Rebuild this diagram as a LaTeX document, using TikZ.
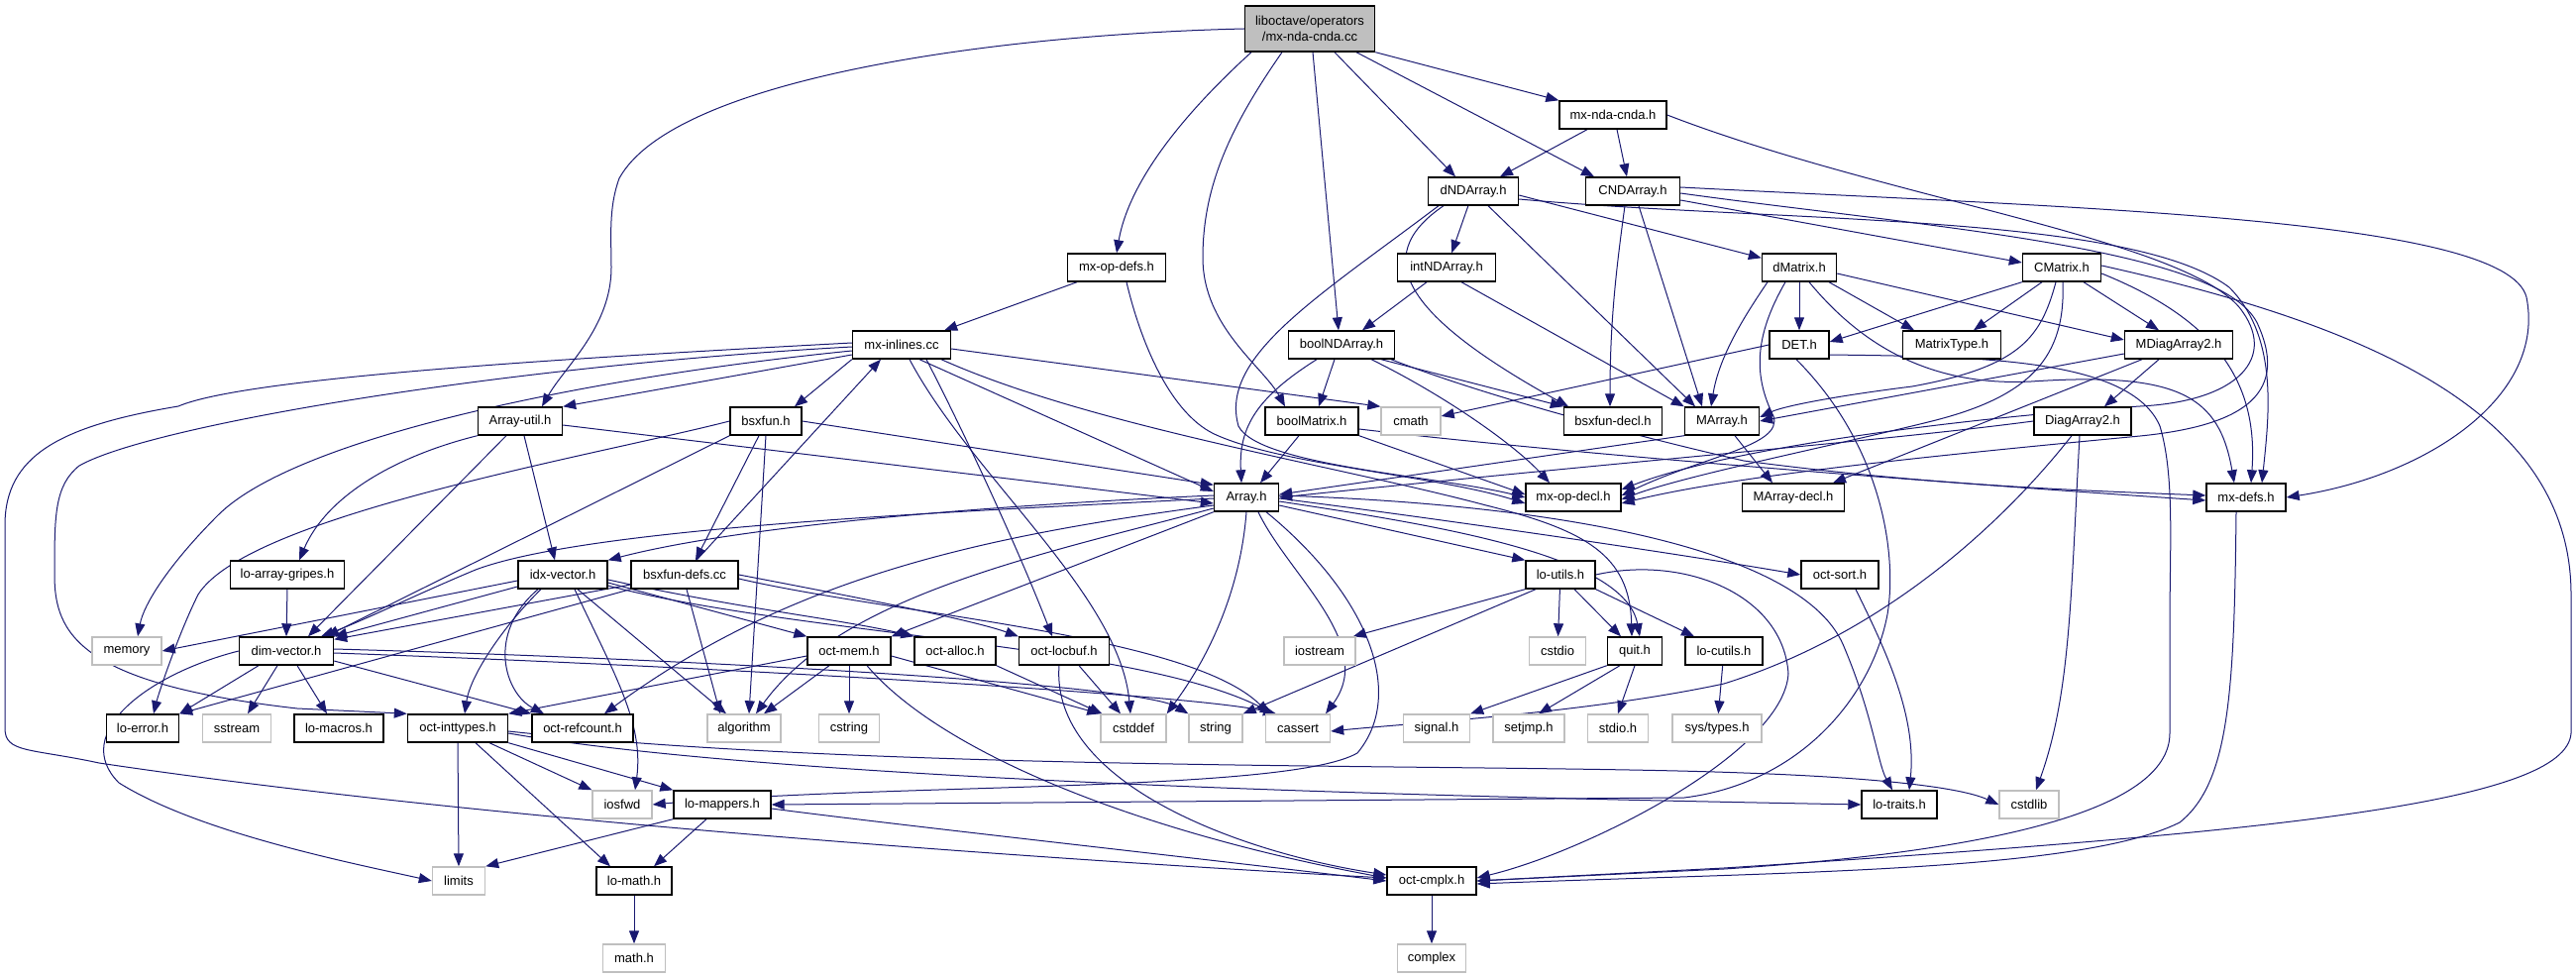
\documentclass[tikz,border=0pt]{standalone}
\usepackage{fontspec}
\setmainfont{Liberation Sans}
\usetikzlibrary{arrows.meta}
\definecolor{eblue}{HTML}{191970}
\definecolor{lgray}{HTML}{BFBFBF}
\pgfdeclarelayer{background}
\pgfsetlayers{background,main}
\tikzset{
 nd/.style={draw=black, line width=1.4pt, fill=white, minimum height=28pt, inner sep=0pt, text=black, font=\fontsize{13}{16}\selectfont},
 gx/.style={nd, draw=lgray},
 rootbox/.style={nd, fill=lgray, minimum height=46pt, align=center},
 edg/.style={draw=eblue, line width=1pt, -{Triangle[length=13pt,width=10pt]}}
}
\begin{document}
\begin{tikzpicture}[x=1pt,y=-1pt]
\useasboundingbox (0,0) rectangle (2600,987);
% row 0
\node[rootbox, minimum width=131pt] (root) at (1322,29) {liboctave/operators\\/mx-nda-cnda.cc};
% row 1
\node[nd, minimum width=108pt] (mxndacndah) at (1628,116) {mx-nda-cnda.h};
% row 2
\node[nd, minimum width=91pt] (dNDArray) at (1487,193) {dNDArray.h};
\node[nd, minimum width=95pt] (CNDArray) at (1648,193) {CNDArray.h};
% row 3
\node[nd, minimum width=99pt] (mxopdefs) at (1127,270) {mx-op-defs.h};
\node[nd, minimum width=99pt] (intNDArray) at (1460,270) {intNDArray.h};
\node[nd, minimum width=75pt] (dMatrix) at (1816,270) {dMatrix.h};
\node[nd, minimum width=79pt] (CMatrix) at (2081,270) {CMatrix.h};
% row 4
\node[nd, minimum width=99pt] (mxinlines) at (910,348) {mx-inlines.cc};
\node[nd, minimum width=107pt] (boolNDArray) at (1354,348) {boolNDArray.h};
\node[nd, minimum width=60pt] (DET) at (1816,348) {DET.h};
\node[nd, minimum width=99pt] (MatrixType) at (1970,348) {MatrixType.h};
\node[nd, minimum width=109pt] (MDiagArray2) at (2199,348) {MDiagArray2.h};
% row 5
\node[nd, minimum width=85pt] (Arrayutil) at (525,425) {Array-util.h};
\node[nd, minimum width=72pt] (bsxfun) at (773,425) {bsxfun.h};
\node[nd, minimum width=94pt] (boolMatrix) at (1324,425) {boolMatrix.h};
\node[gx, minimum width=60pt] (cmath) at (1424,425) {cmath};
\node[nd, minimum width=99pt] (bsxfundecl) at (1628,425) {bsxfun-decl.h};
\node[nd, minimum width=75pt] (MArray) at (1738,425) {MArray.h};
\node[nd, minimum width=98pt] (DiagArray2) at (2102,425) {DiagArray2.h};
% row 6
\node[nd, minimum width=65pt] (Array) at (1258,502) {Array.h};
\node[nd, minimum width=96pt] (mxopdecl) at (1588,502) {mx-op-decl.h};
\node[nd, minimum width=103pt] (MArraydecl) at (1810,502) {MArray-decl.h};
\node[nd, minimum width=80pt] (mxdefs) at (2267,502) {mx-defs.h};
% row 7
\node[nd, minimum width=115pt] (loarraygripes) at (290,580) {lo-array-gripes.h};
\node[nd, minimum width=90pt] (idxvector) at (568,580) {idx-vector.h};
\node[nd, minimum width=108pt] (bsxfundefs) at (691,580) {bsxfun-defs.cc};
\node[nd, minimum width=70pt] (loutils) at (1575,580) {lo-utils.h};
\node[nd, minimum width=78pt] (octsort) at (1857,580) {oct-sort.h};
% row 8
\node[gx, minimum width=70pt] (memory) at (128,657) {memory};
\node[nd, minimum width=95pt] (dimvector) at (289,657) {dim-vector.h};
\node[nd, minimum width=84pt] (octmem) at (857,657) {oct-mem.h};
\node[nd, minimum width=82pt] (octalloc) at (964,657) {oct-alloc.h};
\node[nd, minimum width=91pt] (octlocbuf) at (1074,657) {oct-locbuf.h};
\node[gx, minimum width=72pt] (iostream) at (1332,657) {iostream};
\node[gx, minimum width=57pt] (cstdio) at (1572,657) {cstdio};
\node[nd, minimum width=55pt] (quit) at (1650,657) {quit.h};
\node[nd, minimum width=78pt] (locutils) at (1740,657) {lo-cutils.h};
% row 9
\node[nd, minimum width=73pt] (loerror) at (144,735) {lo-error.h};
\node[gx, minimum width=69pt] (sstream) at (239,735) {sstream};
\node[nd, minimum width=90pt] (lomacros) at (342,735) {lo-macros.h};
\node[nd, minimum width=101pt] (octinttypes) at (462,735) {oct-inttypes.h};
\node[nd, minimum width=102pt] (octrefcount) at (588,735) {oct-refcount.h};
\node[gx, minimum width=74pt] (algorithm) at (751,735) {algorithm};
\node[gx, minimum width=61pt] (cstring) at (857,735) {cstring};
\node[gx, minimum width=66pt] (cstddef) at (1144,735) {cstddef};
\node[gx, minimum width=54pt] (string) at (1227,735) {string};
\node[gx, minimum width=65pt] (cassert) at (1310,735) {cassert};
\node[gx, minimum width=67pt] (signalh) at (1450,735) {signal.h};
\node[gx, minimum width=72pt] (setjmp) at (1543,735) {setjmp.h};
\node[gx, minimum width=61pt] (stdioh) at (1633,735) {stdio.h};
\node[gx, minimum width=90pt] (systypes) at (1733,735) {sys/types.h};
% row 10
\node[gx, minimum width=60pt] (iosfwd) at (628,812) {iosfwd};
\node[nd, minimum width=98pt] (lomappers) at (729,812) {lo-mappers.h};
\node[nd, minimum width=76pt] (lotraits) at (1917,812) {lo-traits.h};
\node[gx, minimum width=60pt] (cstdlib) at (2048,812) {cstdlib};
% row 11
\node[gx, minimum width=53pt] (limits) at (463,889) {limits};
\node[nd, minimum width=76pt] (lomath) at (640,889) {lo-math.h};
\node[nd, minimum width=90pt] (octcmplx) at (1445,889) {oct-cmplx.h};
% row 12
\node[gx, minimum width=63pt] (mathh) at (640,967) {math.h};
\node[gx, minimum width=69pt] (complex) at (1445,967) {complex};

\begin{pgfonlayer}{background}
% root
\draw[edg] (root.west) .. controls (1000,35) and (680,80) .. (625,180) .. controls (614,210) and (617,240) .. (617,270) .. controls (617,330) and (570,370) .. ([xshift=22pt]Arrayutil.north);
\draw[edg] ([xshift=-59pt]root.south) .. controls (1200,110) and (1140,180) .. (mxopdefs.north);
\draw[edg] ([xshift=-28pt]root.south) .. controls (1240,130) and (1214,190) .. (1214,260) .. controls (1214,330) and (1275,370) .. ([xshift=-27pt]boolMatrix.north);
\draw[edg] ([xshift=3pt]root.south) -- ([xshift=-3pt]boolNDArray.north);
\draw[edg] ([xshift=25pt]root.south) -- ([xshift=-18pt]dNDArray.north);
\draw[edg] ([xshift=47pt]root.south) -- ([xshift=-39pt]CNDArray.north);
\draw[edg] (root.south east) -- (mxndacndah.north west);
% mx-nda-cnda.h
\draw[edg] ([xshift=-26pt]mxndacndah.south) -- ([xshift=27pt]dNDArray.north);
\draw[edg] ([xshift=4pt]mxndacndah.south) -- ([xshift=-6pt]CNDArray.north);
\draw[edg] (mxndacndah.east) .. controls (1900,200) and (2200,240) .. (2260,310) .. controls (2300,360) and (2260,405) .. (2160,410) .. controls (2000,420) and (1750,450) .. ([yshift=8pt]mxopdecl.east);
% dNDArray.h
\draw[edg] (dNDArray) -- (intNDArray);
\draw[edg] ([xshift=15pt]dNDArray.south) -- ([xshift=-27pt]MArray.north);
\draw[edg] ([xshift=-30pt]dNDArray.south) .. controls (1380,260) and (1420,320) .. ([xshift=-45pt]bsxfundecl.north);
\draw[edg] ([xshift=-35pt]dNDArray.south) .. controls (1330,300) and (1230,360) .. (1250,430) .. controls (1270,470) and (1450,480) .. (mxopdecl.west);
\draw[edg] ([yshift=-4pt]dNDArray.east) -- ([yshift=-5pt]dMatrix.north west);
\draw[edg] ([yshift=-8pt]dNDArray.east) .. controls (1800,225) and (2150,215) .. (2250,290) .. controls (2300,340) and (2290,420) .. ([xshift=16pt]mxdefs.north);
% CNDArray.h
\draw[edg] ([xshift=-8pt]CNDArray.south) .. controls (1630,280) and (1625,330) .. ([xshift=-3pt]bsxfundecl.north);
\draw[edg] ([xshift=6pt]CNDArray.south) -- ([xshift=-20pt]MArray.north);
\draw[edg] ([yshift=-9pt]CNDArray.east) -- ([yshift=5pt]CMatrix.west);
\draw[edg] ([yshift=-2pt]CNDArray.east) .. controls (1950,230) and (2250,250) .. (2280,330) .. controls (2310,400) and (2260,430) .. (2160,440) .. controls (1950,460) and (1750,480) .. ([yshift=-6pt]mxopdecl.east);
\draw[edg] ([yshift=4pt]CNDArray.east) .. controls (2100,210) and (2530,220) .. (2550,300) .. controls (2570,400) and (2450,480) .. (mxdefs.east);
% dMatrix.h
\draw[edg] ([xshift=-32pt]dMatrix.south) .. controls (1760,320) and (1735,360) .. ([xshift=-11pt]MArray.north);
\draw[edg] ([xshift=-14pt]dMatrix.south) .. controls (1770,340) and (1770,380) .. (1790,420) .. controls (1800,450) and (1720,460) .. ([yshift=2pt]mxopdecl.east);
\draw[edg] (dMatrix) -- (DET);
\draw[edg] ([xshift=30pt]dMatrix.south) -- ([xshift=-38pt]MatrixType.north);
\draw[edg] ([yshift=-6pt]dMatrix.east) -- ([yshift=5pt]MDiagArray2.west);
\draw[edg] ([xshift=10pt]dMatrix.south) .. controls (1880,350) and (1950,390) .. (2050,385) .. controls (2200,375) and (2240,400) .. ([xshift=-12pt]mxdefs.north);
% CMatrix.h
\draw[edg] (CMatrix.south west) -- ([yshift=3pt]DET.east);
\draw[edg] ([xshift=-20pt]CMatrix.south) -- ([xshift=22pt]MatrixType.north);
\draw[edg] ([xshift=-6pt]CMatrix.south) .. controls (2060,340) and (2040,370) .. (1930,390) .. controls (1850,400) and (1800,410) .. ([yshift=4pt]MArray.east);
\draw[edg] ([xshift=1pt]CMatrix.south) .. controls (2085,360) and (2050,400) .. (1950,425) .. controls (1850,450) and (1700,480) .. ([yshift=-2pt]mxopdecl.east);
\draw[edg] ([xshift=22pt]CMatrix.south) -- ([xshift=-20pt]MDiagArray2.north);
\draw[edg] ([yshift=-6pt]CMatrix.east) .. controls (2230,320) and (2280,380) .. ([xshift=5pt]mxdefs.north);
\draw[edg] ([yshift=2pt]CMatrix.east) .. controls (2400,330) and (2595,420) .. (2595,600) -- (2595,740) .. controls (2590,810) and (2300,840) .. (1740,876) -- (octcmplx.east);
% DET.h
\draw[edg] (DET.west) -- ([yshift=5pt]cmath.east);
\draw[edg] ([yshift=-10pt]DET.east) .. controls (1990,360) and (2150,360) .. (2180,430) .. controls (2195,480) and (2190,550) .. (2190,630) -- (2190,740) .. controls (2190,820) and (2000,860) .. (1740,877) -- (octcmplx.east);
\draw[edg] ([xshift=-3pt]DET.south) .. controls (1900,450) and (1915,560) .. (1905,620) .. controls (1890,700) and (1820,790) .. (1700,805) -- (lomappers.east);
% MDiagArray2.h
\draw[edg] ([yshift=-9pt]MDiagArray2.west) -- (MArray.east);
\draw[edg] ([xshift=-37pt]MDiagArray2.south) -- ([xshift=40pt]MArraydecl.north);
\draw[edg] ([xshift=-20pt]MDiagArray2.south) -- ([xshift=22pt]DiagArray2.north);
% MArray.h
\draw[edg] (MArray.south west) -- ([yshift=3pt]Array.east);
\draw[edg] ([xshift=13pt]MArray.south) -- ([xshift=-21pt]MArraydecl.north);
% DiagArray2.h
\draw[edg] (DiagArray2.west) .. controls (1900,445) and (1700,460) .. (Array.east);
\draw[edg] ([xshift=-11pt]DiagArray2.south) .. controls (2020,530) and (1900,640) .. (1740,690) .. controls (1600,720) and (1420,730) .. ([yshift=-3pt]cassert.east);
\draw[edg] ([xshift=-3pt]DiagArray2.south) .. controls (2090,600) and (2090,700) .. ([xshift=7pt]cstdlib.north);
% intNDArray.h
\draw[edg] ([xshift=-20pt]intNDArray.south) -- ([xshift=21pt]boolNDArray.north);
\draw[edg] ([xshift=15pt]intNDArray.south) -- (MArray.north west);
% boolNDArray.h
\draw[edg] ([xshift=-25pt]boolNDArray.south) .. controls (1270,400) and (1250,430) .. ([xshift=-5pt]Array.north);
\draw[edg] ([xshift=-7pt]boolNDArray.south) -- ([xshift=7pt]boolMatrix.north);
\draw[edg] ([xshift=30pt]boolNDArray.south) .. controls (1460,400) and (1530,450) .. ([xshift=-24pt]mxopdecl.north);
\draw[edg] ([xshift=40pt]boolNDArray.south) -- (bsxfundecl.north west);
\draw[edg] ([xshift=50pt]boolNDArray.south) .. controls (1500,400) and (1650,440) .. (1760,465) .. controls (1950,490) and (2100,495) .. ([yshift=2pt]mxdefs.west);
% boolMatrix.h
\draw[edg] ([xshift=-13pt]boolMatrix.south) -- ([xshift=14pt]Array.north);
\draw[edg] (boolMatrix.south east) -- ([yshift=3pt]mxopdecl.west);
\draw[edg] ([yshift=-8pt]boolMatrix.east) .. controls (1600,460) and (2000,490) .. ([yshift=-3pt]mxdefs.west);
% mx-op-defs.h
\draw[edg] ([xshift=-40pt]mxopdefs.south) -- ([xshift=-7pt]mxinlines.north east);
\draw[edg] ([xshift=10pt]mxopdefs.south) .. controls (1150,340) and (1180,420) .. (1230,440) .. controls (1300,470) and (1450,480) .. ([yshift=-6pt]mxopdecl.west);
% mx-inlines.cc
\draw[edg] ([yshift=-10pt]mxinlines.west) -- (Arrayutil.north east);
\draw[edg] (mxinlines.south west) -- ([xshift=29pt]bsxfun.north);
\draw[edg] ([yshift=-4pt]mxinlines.east) -- (cmath.north west);
\draw[edg] ([yshift=-6pt]mxinlines.west) .. controls (600,380) and (300,440) .. (220,520) .. controls (170,570) and (145,610) .. ([xshift=11pt]memory.north);
\draw[edg] ([xshift=18pt]mxinlines.south) -- ([yshift=6pt]Array.west);
\draw[edg] ([yshift=2pt]mxinlines.west) .. controls (600,360) and (250,380) .. (180,410) .. controls (60,430) and (5,460) .. (5,530) -- (5,735) .. controls (5,760) and (30,755) .. (100,770) .. controls (500,830) and (1100,870) .. ([yshift=3pt]octcmplx.west);
\draw[edg] ([yshift=-2pt]mxinlines.west) .. controls (500,370) and (150,430) .. (80,470) .. controls (55,490) and (55,520) .. (55,580) .. controls (55,640) and (80,690) .. (300,715) -- (octinttypes.north west);
\draw[edg] ([xshift=8pt]mxinlines.south) .. controls (980,480) and (1130,600) .. ([xshift=-3pt]cstddef.north);
\draw[edg] ([xshift=25pt]mxinlines.south) .. controls (980,450) and (1030,560) .. ([xshift=-12pt]octlocbuf.north);
\draw[edg] ([xshift=40pt]mxinlines.south) .. controls (1100,430) and (1350,470) .. (1500,510) .. controls (1600,535) and (1645,560) .. ([xshift=-3pt]quit.north);
% Array-util.h
\draw[edg] ([yshift=-4pt]Arrayutil.east) -- ([yshift=-6pt]Array.west);
\draw[edg] ([xshift=4pt]Arrayutil.south) -- ([xshift=-8pt]idxvector.north);
\draw[edg] (Arrayutil.south west) .. controls (400,460) and (330,500) .. ([xshift=12pt]loarraygripes.north);
\draw[edg] ([xshift=-14pt]Arrayutil.south) -- ([xshift=22pt]dimvector.north);
% bsxfun.h
\draw[edg] (bsxfun.west) .. controls (600,460) and (250,520) .. (200,600) .. controls (180,640) and (160,700) .. ([xshift=11pt]loerror.north);
\draw[edg] (bsxfun.south west) -- ([xshift=40pt]dimvector.north);
\draw[edg] ([xshift=-7pt]bsxfun.south) -- ([xshift=11pt]bsxfundefs.north);
\draw[edg] (bsxfun.south) -- ([xshift=5pt]algorithm.north);
\draw[edg] (bsxfun.east) -- ([yshift=-2pt]Array.north west);
% bsxfun-defs.cc
\draw[edg] ([xshift=12pt]bsxfundefs.north) -- ([xshift=-21pt]mxinlines.south);
\draw[edg] (bsxfundefs.south west) -- (loerror.north east);
\draw[edg] ([yshift=-10pt]bsxfundefs.west) -- ([yshift=-3pt]dimvector.north east);
\draw[edg] ([xshift=2pt]bsxfundefs.south) -- ([xshift=-24pt]algorithm.north);
\draw[edg] (bsxfundefs.east) .. controls (850,600) and (980,625) .. (octlocbuf.north west);
\draw[edg] ([yshift=-4pt]bsxfundefs.east) .. controls (900,620) and (1200,640) .. ([xshift=-29pt]cassert.north);
% lo-array-gripes.h
\draw[edg] (loarraygripes.south) -- (dimvector.north);
% idx-vector.h
\draw[edg] ([yshift=-6pt]idxvector.west) -- (memory.east);
\draw[edg] ([yshift=-12pt]idxvector.west) -- (dimvector.north east);
\draw[edg] ([xshift=-22pt]idxvector.south) .. controls (510,630) and (475,680) .. ([xshift=7pt]octinttypes.north);
\draw[edg] ([xshift=-25pt]idxvector.south) .. controls (490,640) and (510,700) .. ([xshift=-39pt]octrefcount.north);
\draw[edg] ([xshift=12pt]idxvector.south) .. controls (620,680) and (650,730) .. ([xshift=13pt]iosfwd.north);
\draw[edg] ([xshift=15pt]idxvector.south) -- ([xshift=-18pt]algorithm.north);
\draw[edg] ([yshift=-8pt]idxvector.east) -- (octmem.north west);
\draw[edg] ([yshift=-5pt]idxvector.east) .. controls (750,615) and (850,625) .. (octalloc.north west);
\draw[edg] ([yshift=-11pt]idxvector.east) .. controls (800,640) and (1150,650) .. ([xshift=-25pt]cassert.north);
% dim-vector.h
\draw[edg] (dimvector.west) .. controls (150,680) and (70,740) .. (120,790) .. controls (200,840) and (350,870) .. (limits.west);
\draw[edg] ([xshift=-28pt]dimvector.south) -- (loerror.north east);
\draw[edg] ([xshift=-9pt]dimvector.south) -- ([xshift=11pt]sstream.north);
\draw[edg] ([xshift=11pt]dimvector.south) -- ([xshift=-12pt]lomacros.north);
\draw[edg] ([yshift=-10pt]dimvector.east) -- (octrefcount.north west);
\draw[edg] ([yshift=2pt]dimvector.east) .. controls (700,665) and (1150,690) .. (string.north west);
\draw[edg] ([yshift=-2pt]dimvector.east) .. controls (700,672) and (1200,700) .. ([xshift=-22pt]cassert.north);
% oct-mem.h
\draw[edg] ([yshift=-5pt]octmem.west) -- (octinttypes.north east);
\draw[edg] ([xshift=-20pt]octmem.south) -- ([xshift=20pt]algorithm.north);
\draw[edg] (octmem.south) -- (cstring.north);
\draw[edg] ([xshift=18pt]octmem.south) .. controls (950,760) and (1150,840) .. ([yshift=3pt]octcmplx.west);
\draw[edg] ([yshift=-5pt]octmem.east) -- (cstddef.north west);
% oct-alloc.h, oct-locbuf.h
\draw[edg] (octalloc.south east) -- ([xshift=2pt]cstddef.north west);
\draw[edg] ([xshift=15pt]octlocbuf.south) -- ([xshift=-13pt]cstddef.north);
\draw[edg] ([xshift=-5pt]octlocbuf.south) .. controls (1060,790) and (1250,860) .. ([yshift=6pt]octcmplx.west);
% oct-inttypes.h
\draw[edg] (octinttypes.south) -- (limits.north);
\draw[edg] ([xshift=18pt]octinttypes.south) -- ([xshift=-24pt]lomath.north);
\draw[edg] ([xshift=32pt]octinttypes.south) -- (iosfwd.north west);
\draw[edg] (octinttypes.south east) -- (lomappers.north west);
\draw[edg] ([yshift=-5pt]octinttypes.east) .. controls (800,790) and (1500,805) .. (lotraits.west);
\draw[edg] ([yshift=-3pt]octinttypes.east) .. controls (900,780) and (1500,770) .. (1760,780) .. controls (1900,785) and (1980,795) .. (cstdlib.west);
% lo-mappers.h
\draw[edg] (lomappers.south west) -- (limits.north east);
\draw[edg] ([xshift=-16pt]lomappers.south) -- ([xshift=20pt]lomath.north);
\draw[edg] ([yshift=-4pt]lomappers.east) .. controls (900,832) and (1200,865) .. (octcmplx.west);
% leaves
\draw[edg] (lomath) -- (mathh);
\draw[edg] (octcmplx) -- (complex);
% Array.h
\draw[edg] ([yshift=2pt]Array.west) .. controls (1000,510) and (750,530) .. (idxvector.north east);
\draw[edg] ([yshift=-1pt]Array.west) .. controls (1000,515) and (600,530) .. (480,575) .. controls (420,600) and (370,625) .. ([xshift=35pt]dimvector.north);
\draw[edg] ([yshift=-8pt]Array.west) .. controls (1000,540) and (800,580) .. ([xshift=22pt]octrefcount.north);
\draw[edg] ([yshift=-11pt]Array.west) .. controls (1050,560) and (850,600) .. ([xshift=12pt]algorithm.north);
\draw[edg] (Array.south west) -- (octmem.north east);
\draw[edg] ([xshift=20pt]Array.south) .. controls (1380,600) and (1420,700) .. (1370,760) .. controls (1300,800) and (900,790) .. (iosfwd.east);
\draw[edg] ([xshift=12pt]Array.south) .. controls (1300,580) and (1390,650) .. ([xshift=28pt]cassert.north);
\draw[edg] (Array.south) .. controls (1250,620) and (1200,690) .. (cstddef.north east);
\draw[edg] ([yshift=-8pt]Array.east) -- (loutils.north west);
\draw[edg] ([yshift=-4pt]Array.east) .. controls (1450,530) and (1640,560) .. ([xshift=5pt]quit.north);
\draw[edg] ([yshift=-1pt]Array.east) .. controls (1500,530) and (1700,560) .. (octsort.west);
\draw[edg] ([yshift=2pt]Array.east) .. controls (1600,510) and (1820,560) .. (1860,650) .. controls (1890,720) and (1895,770) .. ([xshift=-7pt]lotraits.north);
% oct-sort.h
\draw[edg] ([xshift=16pt]octsort.south) .. controls (1900,650) and (1935,720) .. ([xshift=10pt]lotraits.north);
% lo-utils.h
\draw[edg] (loutils.south west) -- ([xshift=-3pt]iostream.north east);
\draw[edg] ([xshift=-25pt]loutils.south) -- (string.north east);
\draw[edg] (loutils) -- (cstdio);
\draw[edg] ([xshift=14pt]loutils.south) -- ([xshift=-14pt]quit.north);
\draw[edg] (loutils.south east) -- ([xshift=-30pt]locutils.north);
\draw[edg] (loutils.east) .. controls (1700,560) and (1800,600) .. (1805,680) .. controls (1800,760) and (1600,860) .. ([yshift=3pt]octcmplx.east);
% quit.h, lo-cutils.h
\draw[edg] (quit.south west) -- (signalh.north east);
\draw[edg] ([xshift=-15pt]quit.south) -- ([xshift=10pt]setjmp.north);
\draw[edg] (quit.south) -- (stdioh.north);
\draw[edg] (locutils) -- (systypes);
% mx-defs.h
\draw[edg] ([xshift=-10pt]mxdefs.south) .. controls (2255,700) and (2250,790) .. (2200,830) .. controls (2100,880) and (1800,880) .. ([yshift=-3pt]octcmplx.east);
\end{pgfonlayer}
\end{tikzpicture}
\end{document}
